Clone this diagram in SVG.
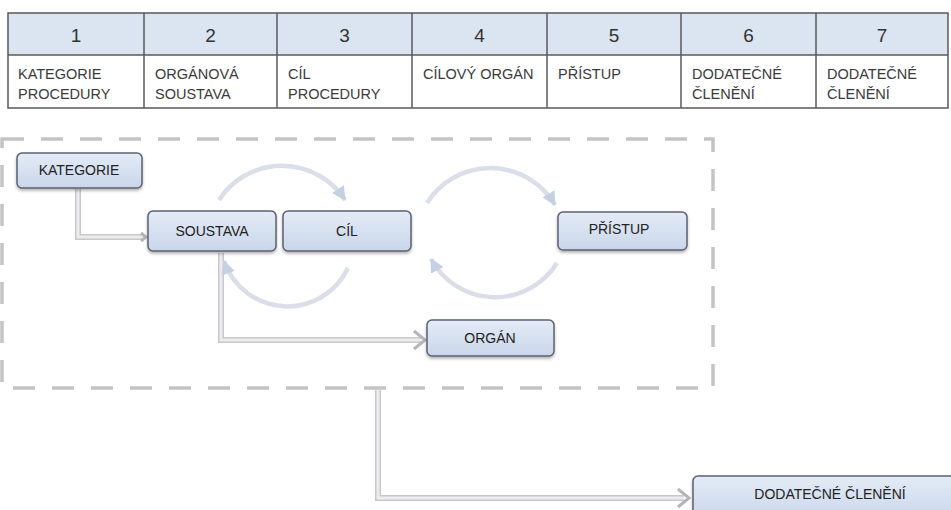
<svg xmlns="http://www.w3.org/2000/svg" width="951" height="510" viewBox="0 0 951 510">
  <defs>
    <style>
      .hdr { fill: #dbe5f1; }
      .grid { stroke: #5a5a5a; stroke-width: 1.5; fill: none; }
      .num { font-family: "Liberation Sans", Arial, sans-serif; font-size: 19px; fill: #333; text-anchor: middle; }
      .cell { font-family: "Liberation Sans", Arial, sans-serif; font-size: 14.5px; fill: #3a3a3a; }
      .node rect { fill: url(#nodeGrad); stroke: #5b6170; stroke-width: 1.5; filter: url(#shadow); }
      .node text { font-family: "Liberation Sans", Arial, sans-serif; font-size: 14px; fill: #222; text-anchor: middle; dominant-baseline: central; }
      .frame { fill: none; stroke: #c4c4c4; stroke-width: 3.5; stroke-dasharray: 22 17; }
      .elbow-bg { fill: none; stroke: #c9c9c9; stroke-width: 6; stroke-linejoin: miter; }
      .elbow { fill: none; stroke: #ececf0; stroke-width: 3; stroke-linejoin: miter; }
      .chev { fill: none; stroke: #b5b5b5; stroke-width: 3; stroke-linejoin: miter; }
      .arc { fill: none; stroke: #d9dee8; stroke-width: 4.5; }
    </style>
    <linearGradient id="nodeGrad" x1="0" y1="0" x2="0" y2="1">
      <stop offset="0" stop-color="#e4ebf6"/>
      <stop offset="1" stop-color="#c9d6ea"/>
    </linearGradient>
    <filter id="shadow" x="-10%" y="-20%" width="120%" height="150%">
      <feDropShadow dx="0" dy="2" stdDeviation="1.5" flood-color="#000" flood-opacity="0.3"/>
    </filter>
    <marker id="tri" viewBox="0 0 14 14" refX="13" refY="7" markerWidth="14" markerHeight="14" markerUnits="userSpaceOnUse" orient="auto">
      <path d="M0,0 L14,7 L0,14 Z" fill="#c6d0e3"/>
    </marker>
  </defs>

  <!-- Table -->
  <g id="table">
    <rect class="hdr" x="8" y="13" width="940" height="42"/>
    <rect class="grid" x="8" y="13" width="940" height="95"/>
    <line class="grid" x1="8" y1="55" x2="948" y2="55"/>
    <line class="grid" x1="144" y1="13" x2="144" y2="108"/>
    <line class="grid" x1="277" y1="13" x2="277" y2="108"/>
    <line class="grid" x1="412" y1="13" x2="412" y2="108"/>
    <line class="grid" x1="547" y1="13" x2="547" y2="108"/>
    <line class="grid" x1="681" y1="13" x2="681" y2="108"/>
    <line class="grid" x1="816" y1="13" x2="816" y2="108"/>
    <text class="num" x="76" y="42">1</text>
    <text class="num" x="210.5" y="42">2</text>
    <text class="num" x="344.5" y="42">3</text>
    <text class="num" x="479.5" y="42">4</text>
    <text class="num" x="614" y="42">5</text>
    <text class="num" x="748.5" y="42">6</text>
    <text class="num" x="882" y="42">7</text>
    <text class="cell" x="18" y="79">KATEGORIE</text>
    <text class="cell" x="18" y="99">PROCEDURY</text>
    <text class="cell" x="155" y="79">ORGÁNOVÁ</text>
    <text class="cell" x="155" y="99">SOUSTAVA</text>
    <text class="cell" x="288" y="79">CÍL</text>
    <text class="cell" x="288" y="99">PROCEDURY</text>
    <text class="cell" x="423" y="79">CÍLOVÝ ORGÁN</text>
    <text class="cell" x="558" y="79">PŘÍSTUP</text>
    <text class="cell" x="692" y="79">DODATEČNÉ</text>
    <text class="cell" x="692" y="99">ČLENĚNÍ</text>
    <text class="cell" x="827" y="79">DODATEČNÉ</text>
    <text class="cell" x="827" y="99">ČLENĚNÍ</text>
  </g>

  <!-- Dashed frame -->
  <rect id="frame" class="frame" x="2" y="139" width="711" height="249"/>

  <!-- Connectors -->
  <g id="connectors">
    <path class="elbow-bg" d="M78,189 V237 H143"/>
    <path class="elbow" d="M78,189 V237 H143"/>
    <polyline class="chev" points="141,233 146,237 141,241"/>

    <path class="elbow-bg" d="M221,253 V340 H421"/>
    <path class="elbow" d="M221,253 V340 H421"/>
    <polyline class="chev" points="414,331 425,340 414,349"/>

    <path class="elbow-bg" d="M378,390 V498 H684"/>
    <path class="elbow" d="M378,390 V498 H684"/>
    <polyline class="chev" points="678,489 689,498 678,507"/>

    <path class="arc" d="M219,200 A75,75 0 0 1 345,200" marker-end="url(#tri)"/>
    <path class="arc" d="M348,268 A67,67 0 0 1 224,261" marker-end="url(#tri)"/>
    <path class="arc" d="M427,203 A75,75 0 0 1 555,205" marker-end="url(#tri)"/>
    <path class="arc" d="M557,263 A73,73 0 0 1 431,259" marker-end="url(#tri)"/>
  </g>

  <!-- Nodes -->
  <g id="n-kategorie" class="node">
    <rect x="17" y="153" width="125" height="35" rx="5"/>
    <text x="79" y="170">KATEGORIE</text>
  </g>
  <g id="n-soustava" class="node">
    <rect x="148" y="211" width="128" height="40" rx="5"/>
    <text x="212" y="231">SOUSTAVA</text>
  </g>
  <g id="n-cil" class="node">
    <rect x="283" y="211" width="128" height="40" rx="5"/>
    <text x="347" y="231">CÍL</text>
  </g>
  <g id="n-pristup" class="node">
    <rect x="558" y="212" width="129" height="38" rx="5"/>
    <text x="619" y="229">PŘÍSTUP</text>
  </g>
  <g id="n-organ" class="node">
    <rect x="427" y="320" width="127" height="36" rx="5"/>
    <text x="490" y="338">ORGÁN</text>
  </g>
  <g id="n-dodatecne" class="node">
    <rect x="693" y="476" width="264" height="44" rx="5"/>
    <text x="830" y="494">DODATEČNÉ ČLENĚNÍ</text>
  </g>
</svg>
